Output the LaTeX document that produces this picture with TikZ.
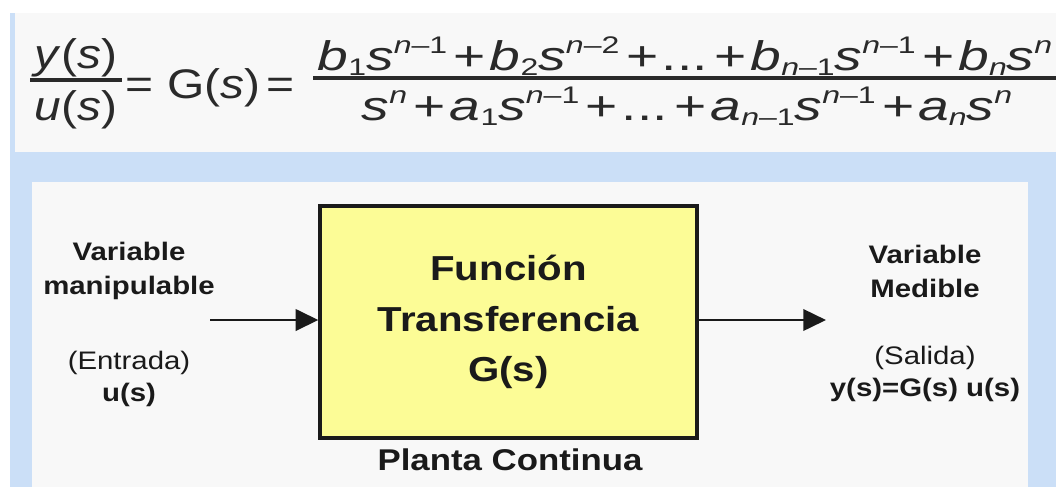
\documentclass[tikz,border=0pt]{standalone}
\usepackage{fontspec}
\setmainfont{Liberation Sans}[FakeStretch=1.16]
\usetikzlibrary{arrows.meta}

\definecolor{panelblue}{HTML}{CBDFF7}
\definecolor{panelbg}{HTML}{F8F8F8}
\definecolor{plantfill}{HTML}{FCFC96}
\definecolor{ink}{HTML}{1A1A1A}
\definecolor{fink}{HTML}{2A2A2A}

% math-like pieces set in the text font
\newcommand\vv[1]{\textit{#1}}
\newcommand\upx[1]{\raisebox{0.40em}{\fontsize{18pt}{18pt}\selectfont #1}}
\newcommand\dnx[1]{\raisebox{-0.14em}{\fontsize{18pt}{18pt}\selectfont #1}}
\newcommand\pl{\hspace{0.14em}+\hspace{0.08em}}
\newcommand\wider[1]{\scalebox{1.15}[1]{#1}}

\tikzset{
  fml/.style={font=\fontsize{31pt}{31pt}\selectfont, text=fink, inner sep=0pt},
  fbar/.style={line width=3pt, fink},
  lbl/.style={align=center, text=ink, inner sep=0pt},
  plantbox/.style={draw=ink, line width=2.5pt, fill=plantfill,
    minimum width=377*0.75pt, minimum height=232*0.75pt, align=center,
    font=\bfseries\fontsize{26pt}{38pt}\selectfont, text=ink},
  flow/.style={line width=2pt, ink, -{Triangle[length=17pt,width=16pt]}}
}

\begin{document}
\begin{tikzpicture}[x=0.75pt, y=-0.75pt]
\useasboundingbox (0,0) rectangle (1056,487);
\begin{scope}
\clip (0,0) rectangle (1056,487);
% backgrounds
\fill[white] (0,0) rectangle (1056,487);
\fill[panelblue] (10,13) rectangle (1056,487);
\fill[panelbg] (15,13) rectangle (1056,152);
\fill[panelbg] (32,182) rectangle (1028,487);

% transfer function formula
\node[fml, anchor=base] (ynum) at (76,68) {\vv{y}(\vv{s})};
\node[fml, anchor=base] (uden) at (76,120) {\vv{u}(\vv{s})};
\draw[fbar] (30,80) -- (122,80);
\node[fml, anchor=base] (eqa) at (139,98) {=};
\node[fml, anchor=base] (gs) at (214,98) {G(\vv{s})};
\node[fml, anchor=base] (eqb) at (280,98) {=};
\node[fml, anchor=base] (bnum) at (685,70)
  {\wider{\vv{b}\dnx{1}\vv{s}\upx{\vv{n}–1}\pl\vv{b}\dnx{2}\vv{s}\upx{\vv{n}–2}\pl...\pl\vv{b}\dnx{\vv{n}–1}\vv{s}\upx{\vv{n}–1}\pl\vv{b}\dnx{\vv{n}}\vv{s}\upx{\vv{n}}}};
\node[fml, anchor=base] (aden) at (687,120)
  {\wider{\vv{s}\upx{\vv{n}}\pl\vv{a}\dnx{1}\vv{s}\upx{\vv{n}–1}\pl...\pl\vv{a}\dnx{\vv{n}–1}\vv{s}\upx{\vv{n}–1}\pl\vv{a}\dnx{\vv{n}}\vv{s}\upx{\vv{n}}}};
\draw[fbar] (313,78) -- (1062,78);

% block diagram
\node[plantbox] (plant) at (508.5,322) {\raisebox{2pt}{Función}\\\raisebox{2pt}{Transferencia}\\\raisebox{2pt}{G(s)}};
\node[lbl, font=\bfseries\fontsize{22.5pt}{22.5pt}\selectfont] (plname) at (510,460) {Planta Continua};

\node[lbl, font=\bfseries\fontsize{19pt}{25.5pt}\selectfont] (inname) at (129,271) {Variable\\manipulable};
\node[lbl, font=\fontsize{19pt}{23.5pt}\selectfont] (inpar) at (129,379) {(Entrada)\\\textbf{u(s)}};
\node[lbl, font=\bfseries\fontsize{19pt}{25.5pt}\selectfont] (outname) at (925,271) {Variable\\Medible};
\node[lbl, font=\fontsize{19pt}{24pt}\selectfont] (outpar) at (925,374) {(Salida)\\\textbf{y(s)=G(s) u(s)}};

\coordinate (src) at (210,320);
\coordinate (dst) at (826,320);
\draw[flow] (src) -- (src -| plant.west);
\draw[flow] (plant.east |- dst) -- (dst);
\end{scope}
\end{tikzpicture}
\end{document}
